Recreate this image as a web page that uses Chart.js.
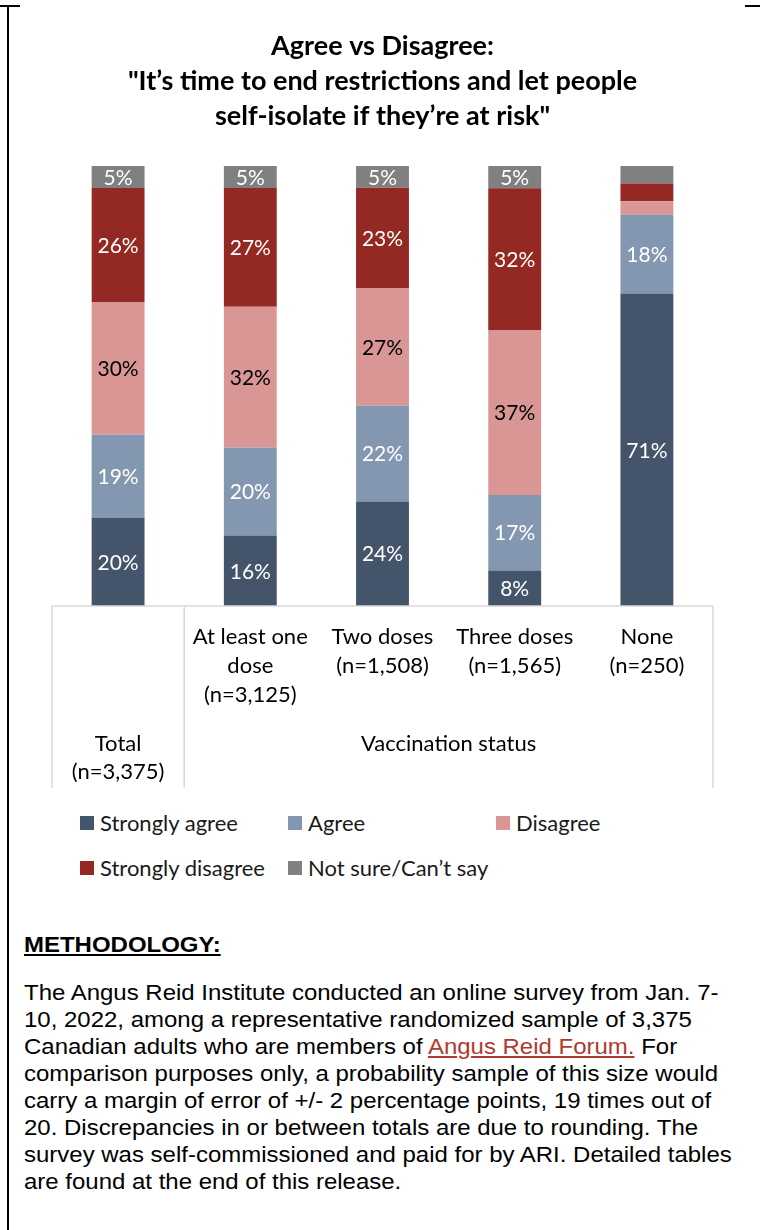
<!DOCTYPE html>
<html>
<head>
<meta charset="utf-8">
<script src="https://cdn.jsdelivr.net/npm/chart.js@4"></script>
<style>
  body { margin: 0; background: #fff; }
  #page { position: relative; width: 760px; height: 1230px; overflow: hidden; background: #fff; }
  #grafico { position: absolute; left: 0; top: 0; }
  .borda { position: absolute; background: #000; }
  #legenda { position: absolute; left: 80px; top: 800px; display: grid; grid-template-columns: 208px 208px 208px; grid-auto-rows: 45px; font-family: Lato, sans-serif; font-size: 22px; color: #1a1a1a; }
  #legenda div { display: flex; align-items: center; white-space: nowrap; }
  #legenda span.cor { width: 14px; height: 14px; margin-right: 6px; flex: none; }
  .metodo { position: absolute; left: 24px; font-family: "Liberation Sans", Arial, sans-serif; font-size: 22px; line-height: 27px; color: #000; white-space: nowrap; transform: scaleX(1.09); transform-origin: left top; }
  #metodoTitulo { top: 931px; font-weight: bold; text-decoration: underline; }
  #metodoTexto { top: 979px; }
  .link { color: #b03a2e; text-decoration: underline; }
</style>
</head>
<body>
<div id="page">
  <canvas id="grafico" width="760" height="800"></canvas>
  <div class="borda" style="left:7px;top:6px;width:2px;height:1224px"></div>
  <div class="borda" style="left:0;top:5px;width:20px;height:2px"></div>
  <div class="borda" style="left:745px;top:5px;width:15px;height:2px"></div>
  <div id="legenda"></div>
  <div class="metodo" id="metodoTitulo">METHODOLOGY:</div>
  <div class="metodo" id="metodoTexto">The Angus Reid Institute conducted an online survey from Jan. 7-<br>10, 2022, among a representative randomized sample of 3,375<br>Canadian adults who are members of <span class="link">Angus Reid Forum.</span> For<br>comparison purposes only, a probability sample of this size would<br>carry a margin of error of +/- 2 percentage points, 19 times out of<br>20. Discrepancies in or between totals are due to rounding. The<br>survey was self-commissioned and paid for by ARI. Detailed tables<br>are found at the end of this release.</div>
</div>
<script>
// Dados do gráfico (percentuais)
const categorias = ['Total', 'At least one dose', 'Two doses', 'Three doses', 'None'];
const rotulosEixo = ['', ['At least one', 'dose', '(n=3,125)'], ['Two doses', '(n=1,508)'], ['Three doses', '(n=1,565)'], ['None', '(n=250)']];
const rotuloTotal = ['Total', '(n=3,375)'];
const rotuloGrupo = 'Vaccination status';

const stronglyAgree = [20, 16, 24, 8, 71];
const agree = [19, 20, 22, 17, 18];
const disagree = [30, 32, 27, 37, 3];
const stronglyDisagree = [26, 27, 23, 32, 4];
const notSure = [5, 5, 5, 5, 4];

const series = [
    { label: 'Strongly agree', data: stronglyAgree, cor: '#44546a', texto: '#ffffff' },
    { label: 'Agree', data: agree, cor: '#8497b0', texto: '#ffffff' },
    { label: 'Disagree', data: disagree, cor: '#da9694', texto: '#000000' },
    { label: 'Strongly disagree', data: stronglyDisagree, cor: '#942823', texto: '#ffffff' },
    { label: 'Not sure/Can\u2019t say', data: notSure, cor: '#808080', texto: '#ffffff' }
];

// 100% empilhado, como no Excel: cada coluna é normalizada pelo seu total
const totais = categorias.map((c, i) => series.reduce((s, d) => s + d.data[i], 0));

Chart.defaults.font.family = 'Lato, sans-serif';
Chart.defaults.color = '#000';

// Rótulos de porcentagem dentro das barras
const rotulosBarras = {
    id: 'rotulosBarras',
    afterDatasetsDraw(chart) {
        const ctx = chart.ctx;
        ctx.save();
        ctx.font = '21px Lato, sans-serif';
        ctx.textAlign = 'center';
        ctx.textBaseline = 'middle';
        chart.data.datasets.forEach((ds, di) => {
            chart.getDatasetMeta(di).data.forEach((el, i) => {
                const valor = ds.valores[i];
                if (valor < 5) return;
                const p = el.getProps(['x', 'y', 'base'], true);
                ctx.fillStyle = ds.corTexto;
                ctx.fillText(valor + '%', p.x, (p.y + p.base) / 2 + 1);
            });
        });
        ctx.restore();
    }
};

// Linhas do eixo de categorias em dois níveis + rótulos de grupo
const eixoGrupos = {
    id: 'eixoGrupos',
    afterDraw(chart) {
        const ctx = chart.ctx;
        const x = chart.scales.x;
        const area = chart.chartArea;
        const esq = area.left, dir = area.right;
        const div = (x.getPixelForValue(0) + x.getPixelForValue(1)) / 2;
        const fim = area.bottom + 182;
        ctx.save();
        ctx.strokeStyle = '#d9d9d9';
        ctx.lineWidth = 1.5;
        ctx.beginPath();
        ctx.moveTo(esq, area.bottom);
        ctx.lineTo(dir, area.bottom);
        [esq, div, dir].forEach(px => {
            ctx.moveTo(px, area.bottom);
            ctx.lineTo(px, fim);
        });
        ctx.stroke();
        ctx.fillStyle = '#000';
        ctx.font = '22px Lato, sans-serif';
        ctx.textAlign = 'center';
        ctx.textBaseline = 'middle';
        ctx.fillText(rotuloTotal[0], x.getPixelForValue(0), area.bottom + 138);
        ctx.fillText(rotuloTotal[1], x.getPixelForValue(0), area.bottom + 166);
        ctx.fillText(rotuloGrupo, (div + dir) / 2, area.bottom + 138);
        ctx.restore();
    }
};

const ctx = document.getElementById('grafico').getContext('2d');
const grafico = new Chart(ctx, {
    type: 'bar',
    data: {
        labels: rotulosEixo,
        datasets: series.map(s => ({
            label: s.label,
            data: s.data.map((v, i) => v * 100 / totais[i]),
            valores: s.data,
            corTexto: s.texto,
            backgroundColor: s.cor,
            borderWidth: 0,
            barPercentage: 0.4,
            categoryPercentage: 1
        }))
    },
    options: {
        responsive: false,
        animation: false,
        layout: { padding: { left: 52, right: 47, top: 0, bottom: 83 } },
        scales: {
            x: {
                stacked: true,
                grid: { display: false },
                border: { display: false },
                ticks: {
                    autoSkip: false,
                    maxRotation: 0,
                    padding: 8,
                    color: '#000',
                    font: { size: 22, lineHeight: '29px' }
                }
            },
            y: {
                stacked: true,
                display: false,
                min: 0,
                max: 100
            }
        },
        plugins: {
            legend: { display: false },
            tooltip: { enabled: false },
            title: {
                display: true,
                text: ['Agree vs Disagree:', '"It\u2019s time to end restrictions and let people', 'self-isolate if they\u2019re at risk"'],
                color: '#000',
                font: { size: 27, weight: 'bold', lineHeight: '35px' },
                padding: { top: 29, bottom: 32 }
            }
        }
    },
    plugins: [rotulosBarras, eixoGrupos]
});

// Legenda em grade (3 colunas), gerada a partir dos datasets
const legenda = document.getElementById('legenda');
grafico.data.datasets.forEach(ds => {
    const item = document.createElement('div');
    item.innerHTML = '<span class="cor" style="background:' + ds.backgroundColor + '"></span>' + ds.label;
    legenda.appendChild(item);
});
</script>
</body>
</html>
